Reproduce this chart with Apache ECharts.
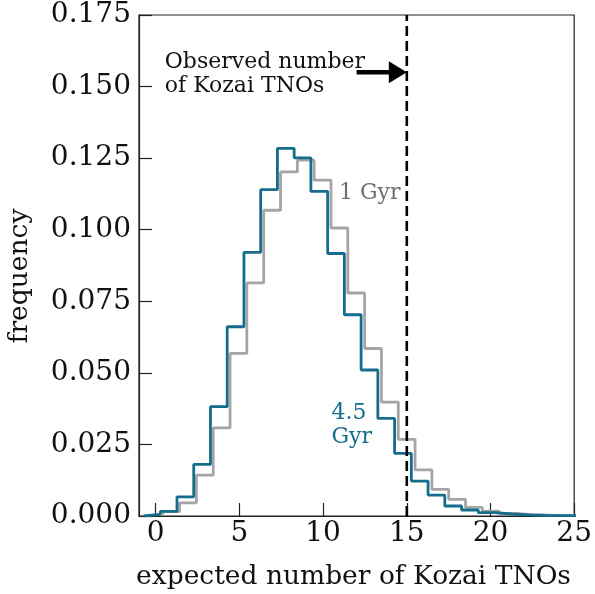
<!DOCTYPE html>
<html>
<head>
<meta charset="utf-8">
<script src="https://cdn.jsdelivr.net/npm/echarts@6/dist/echarts.min.js"></script>
<style>
html,body{margin:0;padding:0;background:#fff;}
#c{width:595px;height:594px;}
</style>
</head>
<body>
<div id="c"></div>
<script>
// ---- data ----
const xTicks = [0, 5, 10, 15, 20, 25];
const yTicks = [0, 0.025, 0.05, 0.075, 0.1, 0.125, 0.15, 0.175];
const xRange = [-1, 25];
const yRange = [0, 0.175];
// 4.5 Gyr histogram (bin start, bin width, frequencies)
const gyr45Start = -0.73;
const gyr45Width = 1.0;
const gyr45Values = [0.0006, 0.0016, 0.0067, 0.0180, 0.0382, 0.0661, 0.0921, 0.1140, 0.1284, 0.1251,
  0.1134, 0.0917, 0.0703, 0.0510, 0.0341, 0.0219, 0.0122, 0.0073, 0.0035, 0.0021,
  0.0012, 0.0007, 0.0004, 0.0002, 0.0001, 0.0001];
// 1 Gyr histogram
const gyr1Start = 0.42;
const gyr1Width = 1.005;
const gyr1Values = [0.0015, 0.0046, 0.0143, 0.0308, 0.0568, 0.0814, 0.1068, 0.1202, 0.1243, 0.1173,
  0.1006, 0.0779, 0.0585, 0.0398, 0.0268, 0.0161, 0.0093, 0.0058, 0.0030, 0.0017,
  0.0009, 0.0005, 0.0003, 0.0001, 0.0001];
const observedNumber = 15;
const arrowFrom = 12;
const arrowY = 0.155;

const BLUE = '#166c8c';
const GRAY = '#a5a5a5';
const FONT = 'DejaVu Serif';

function stepPoints(start, width, vals) {
  const pts = [[start, 0]];
  vals.forEach((v, i) => {
    pts.push([start + i * width, v]);
    pts.push([start + (i + 1) * width, v]);
  });
  pts.push([start + vals.length * width, 0]);
  return pts;
}

const chart = echarts.init(document.getElementById('c'), null, {renderer: 'canvas'});
const option = {
  animation: false,
  grid: {left: 139, right: 19, top: 15, bottom: 78, show: true, borderColor: '#222', borderWidth: 1.2, backgroundColor: 'transparent'},
  xAxis: {
    type: 'value', min: xRange[0], max: xRange[1],
    axisLine: {show: true, onZero: false, lineStyle: {color: '#222', width: 1.2}},
    axisTick: {show: true, inside: true, length: 13, customValues: xTicks, lineStyle: {color: '#222', width: 1.2}},
    axisLabel: {customValues: xTicks, margin: 4, fontFamily: FONT, fontSize: 28, color: '#111'},
    splitLine: {show: false}
  },
  yAxis: {
    type: 'value', min: yRange[0], max: yRange[1], interval: 0.025,
    axisLine: {show: true, onZero: false, lineStyle: {color: '#222', width: 1.2}},
    axisTick: {show: true, inside: true, length: 13, lineStyle: {color: '#222', width: 1.2}},
    axisLabel: {margin: 8, fontFamily: FONT, fontSize: 28, color: '#111', formatter: v => v.toFixed(3)},
    splitLine: {show: false}
  },
  series: [
    {type: 'line', data: stepPoints(gyr1Start, gyr1Width, gyr1Values), showSymbol: false, symbol: 'none',
     lineStyle: {color: GRAY, width: 2.8}, clip: true, z: 2},
    {type: 'line', data: stepPoints(gyr45Start, gyr45Width, gyr45Values), showSymbol: false, symbol: 'none',
     lineStyle: {color: BLUE, width: 2.8}, clip: true, z: 3},
    {type: 'line', data: [[observedNumber, yRange[0]], [observedNumber, yRange[1]]], showSymbol: false, symbol: 'none',
     lineStyle: {color: '#000', width: 2.6, type: [10, 5]}, clip: true, z: 4}
  ]
};
chart.setOption(option);

const P = (x, y) => chart.convertToPixel({gridIndex: 0}, [x, y]);
const tip = P(observedNumber, arrowY);
const tail = P(arrowFrom, arrowY);
const headLen = 18, headHalf = 11;
const t1 = P(0.54, 0.1585), t2 = P(0.54, 0.150);
const g1 = P(10.95, 0.1127);
const b1 = P(10.5, 0.036), b2 = P(10.5, 0.0276);
const AF = '22px "DejaVu Serif"';
const LF = '26.5px "DejaVu Serif"';
chart.setOption({
  graphic: [
    {type: 'line', shape: {x1: tail[0], y1: tail[1], x2: tip[0] - headLen + 2, y2: tip[1]}, style: {stroke: '#000', lineWidth: 4.5}, z: 10},
    {type: 'polygon', shape: {points: [[tip[0], tip[1]], [tip[0] - headLen, tip[1] - headHalf], [tip[0] - headLen, tip[1] + headHalf]]}, style: {fill: '#000'}, z: 10},
    {type: 'text', x: t1[0], y: t1[1], style: {text: 'Observed number', font: AF, fill: '#111', textVerticalAlign: 'middle', textAlign: 'left'}, z: 10},
    {type: 'text', x: t2[0], y: t2[1], style: {text: 'of Kozai TNOs', font: AF, fill: '#111', textVerticalAlign: 'middle', textAlign: 'left'}, z: 10},
    {type: 'text', x: g1[0], y: g1[1], style: {text: '1 Gyr', font: AF, fill: '#6e6e6e', textVerticalAlign: 'middle', textAlign: 'left'}, z: 10},
    {type: 'text', x: b1[0], y: b1[1], style: {text: '4.5', font: AF, fill: BLUE, textVerticalAlign: 'middle', textAlign: 'left'}, z: 10},
    {type: 'text', x: b2[0], y: b2[1], style: {text: 'Gyr', font: AF, fill: BLUE, textVerticalAlign: 'middle', textAlign: 'left'}, z: 10},
    {type: 'text', x: 353.5, y: 577, style: {text: 'expected number of Kozai TNOs', font: LF, fill: '#111', textVerticalAlign: 'middle', textAlign: 'center'}, z: 10},
    {type: 'text', x: 20, y: 276, rotation: Math.PI / 2, style: {text: 'frequency', font: LF, fill: '#111', textVerticalAlign: 'middle', textAlign: 'center'}, z: 10}
  ]
});
</script>
</body>
</html>
